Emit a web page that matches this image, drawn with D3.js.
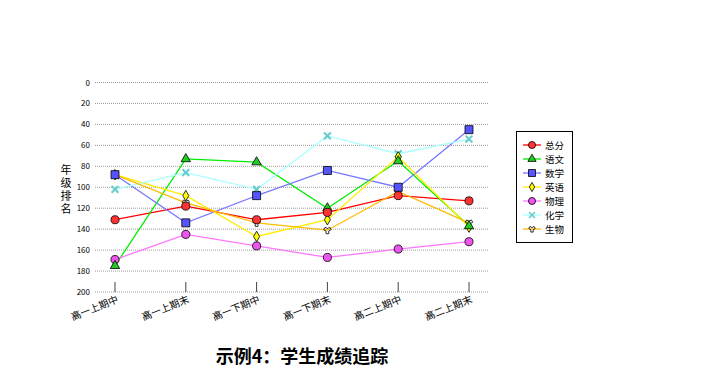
<!DOCTYPE html>
<html>
<head>
<meta charset="utf-8">
<script src="https://cdn.jsdelivr.net/npm/d3@7"></script>
<style>
  body { margin: 0; background: #fff; }
  text { font-family: "Noto Sans CJK SC", "DejaVu Sans", sans-serif; }
</style>
</head>
<body>
<div id="chart"></div>
<script>
const width = 717, height = 375;

const terms = ['高一上期中', '高一上期末', '高一下期中', '高一下期末', '高二上期中', '高二上期末'];
const yTicks = [0, 20, 40, 60, 80, 100, 120, 140, 160, 180, 200];

const zongfen = [131, 118, 131, 124, 108, 113];
const yuwen = [175, 73, 76, 120, 75, 137];
const shuxue = [88, 134, 108, 84, 100, 45];
const yingyu = [88, 108, 147, 131, 71, 138];
const wuli = [169, 145, 156, 167, 159, 152];
const huaxue = [102, 86, 102, 51, 68, 54];
const shengwu = [88, 115, 134, 141, 104, 134];

const series = [
    { name: '总分', values: zongfen, color: '#ff0000', fill: '#ff3333', shape: 'circle' },
    { name: '语文', values: yuwen, color: '#00ee00', fill: '#22cc22', shape: 'triangle' },
    { name: '数学', values: shuxue, color: '#7777ff', fill: '#5555ff', shape: 'square' },
    { name: '英语', values: yingyu, color: '#ffee00', fill: '#ffff00', shape: 'diamond' },
    { name: '物理', values: wuli, color: '#ff77ff', fill: '#ee55ee', shape: 'circle' },
    { name: '化学', values: huaxue, color: '#aaffff', fill: '#66dddd', shape: 'cross' },
    { name: '生物', values: shengwu, color: '#ffbb00', fill: 'none', shape: 'tri' },
]

const svg = d3.select('#chart')
    .append('svg')
    .attr('width', width)
    .attr('height', height);

const x = d3.scalePoint()
    .domain(terms)
    .range([115, 469]);

const y = d3.scaleLinear()
    .domain([0, 200])
    .range([82.5, 292]);

// grid lines
svg.append('g')
    .selectAll('line')
    .data(yTicks)
    .enter()
    .append('line')
    .attr('x1', 95)
    .attr('x2', 488)
    .attr('y1', d => y(d))
    .attr('y2', d => y(d))
    .attr('stroke', '#999')
    .attr('stroke-dasharray', '1,1');

// y tick labels
svg.append('g')
    .selectAll('text')
    .data(yTicks)
    .enter()
    .append('text')
    .text(d => d)
    .attr('x', 90)
    .attr('y', d => y(d) + 3)
    .attr('text-anchor', 'end')
    .attr('font-size', 8)
    .attr('fill', '#000');

// y axis title, written top to bottom
svg.append('text')
    .text('年级排名')
    .attr('x', 66)
    .attr('y', 164)
    .attr('writing-mode', 'tb')
    .attr('letter-spacing', 2)
    .attr('font-size', 11);

// x ticks
svg.append('g')
    .selectAll('line')
    .data(terms)
    .enter()
    .append('line')
    .attr('x1', d => x(d))
    .attr('x2', d => x(d))
    .attr('y1', 282)
    .attr('y2', 292)
    .attr('stroke', '#444');

svg.append('g')
    .selectAll('text')
    .data(terms)
    .enter()
    .append('text')
    .text(d => d)
    .attr('text-anchor', 'end')
    .attr('font-size', 10)
    .attr('transform', d => `translate(${x(d) + 4},${302}) rotate(-22)`);

// lines
const line = d3.line()
    .x((d, i) => x(terms[i]))
    .y(d => y(d));

const symbolPath = (shape, s) => {
    if (shape === 'circle') return d3.symbol(d3.symbolCircle, s * s * 0.8)();
    if (shape === 'triangle') return d3.symbol(d3.symbolTriangle, s * s * 0.6)();
    if (shape === 'square') return d3.symbol(d3.symbolSquare, s * s)();
    if (shape === 'diamond') return d3.symbol(d3.symbolDiamond, s * s * 0.5)();
    if (shape === 'cross') return d3.symbol(d3.symbolX, s * s * 0.5)();
    return d3.symbol(d3.symbolWye, s * s * 0.4)();
};

svg.append('g')
    .selectAll('path')
    .data(series)
    .enter()
    .append('path')
    .attr('d', d => line(d.values))
    .attr('fill', 'none')
    .attr('stroke', d => d.color)
    .attr('stroke-width', 1.3);

// markers, last series drawn first so the blue squares stay on top
const marks = svg.selectAll('.marks')
    .data(series.slice().reverse())
    .enter()
    .append('g')
    .attr('class', 'marks');

marks.each(function (s) {
    d3.select(this)
        .selectAll('path')
        .data(s.values)
        .enter()
        .append('path')
        .attr('d', symbolPath(s.shape, 8))
        .attr('transform', (d, i) => `translate(${x(terms[i])},${y(d)})`)
        .attr('fill', s.shape === 'cross' ? 'none' : s.fill)
        .attr('stroke', s.shape === 'cross' ? '#66cccc' : '#000')
        .attr('stroke-width', s.shape === 'cross' ? 2 : 0.8);
});

// legend
const legend = svg.append('g');
legend.append('rect')
    .attr('x', 516.5)
    .attr('y', 131.5)
    .attr('width', 56)
    .attr('height', 111)
    .attr('fill', '#fff')
    .attr('stroke', '#000');

const item = legend.selectAll('.item')
    .data(series)
    .enter()
    .append('g')
    .attr('transform', (d, i) => `translate(0,${145 + i * 14})`);

item.append('line')
    .attr('x1', 523)
    .attr('x2', 541)
    .attr('stroke', d => d.color)
    .attr('stroke-width', 1.3);

item.append('path')
    .attr('d', d => symbolPath(d.shape, 7))
    .attr('transform', 'translate(532,0)')
    .attr('fill', d => d.shape === 'cross' ? 'none' : d.fill)
    .attr('stroke', d => d.shape === 'cross' ? '#66cccc' : '#000')
    .attr('stroke-width', d => d.shape === 'cross' ? 1.6 : 0.8);

item.append('text')
    .text(d => d.name)
    .attr('x', 545)
    .attr('y', 3.5)
    .attr('font-size', 9.5);

svg.append('text')
    .text('示例4：学生成绩追踪')
    .attr('x', 302)
    .attr('y', 363)
    .attr('text-anchor', 'middle')
    .attr('font-size', 18)
    .attr('font-weight', 'bold');
</script>
</body>
</html>
